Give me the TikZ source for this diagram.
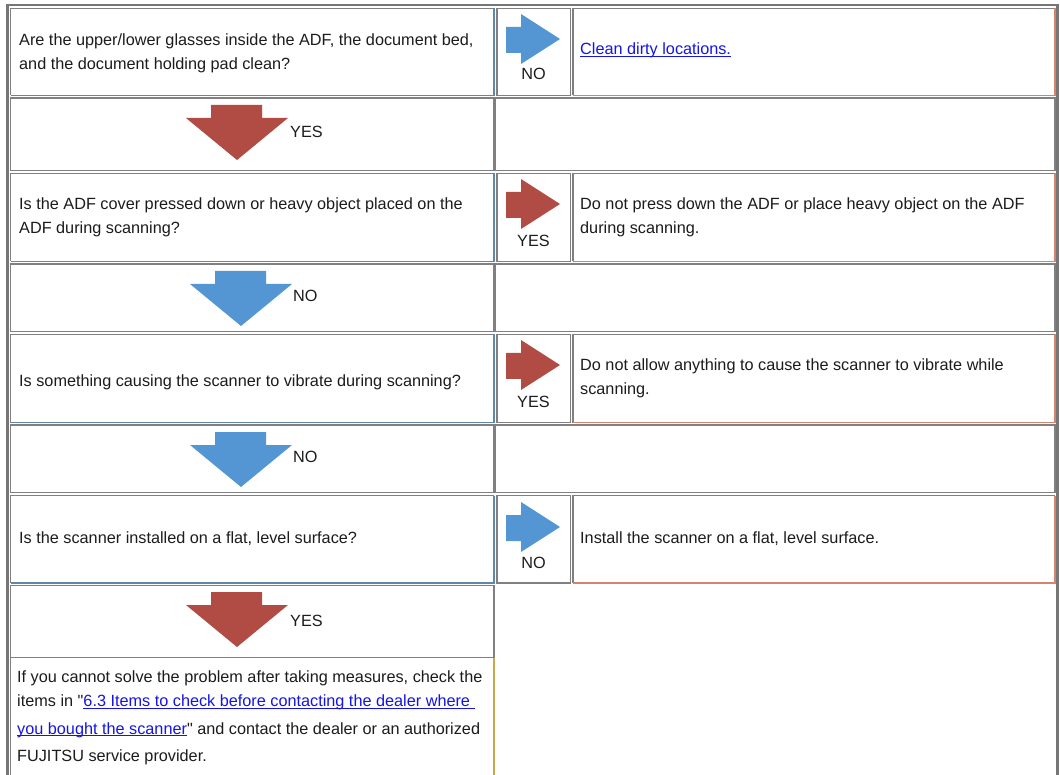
\documentclass[tikz,border=0pt]{standalone}
\usepackage{fontspec}
\setmainfont{Liberation Sans}
\newfontfamily\rawq{Liberation Sans}[Ligatures=TeXOff]
\definecolor{cellgray}{RGB}{128,128,128}
\definecolor{outergray}{RGB}{118,118,118}
\definecolor{qblue}{RGB}{95,135,170}
\definecolor{asalmon}{RGB}{212,132,110}
\definecolor{fgold}{RGB}{200,168,72}
\definecolor{arrowblue}{RGB}{83,150,211}
\definecolor{arrowred}{RGB}{176,76,68}
\definecolor{linkblue}{RGB}{20,20,230}
\definecolor{txt}{RGB}{28,28,28}
\newcommand\linkul[1]{{\color{linkblue}\setbox0\hbox{#1}\rlap{\rule[-2.3pt]{\wd0}{1pt}}\box0}}
\newcommand\qcell[4]{\draw[gline] (#1,#4) |- (#3,#2); \draw[bline] (#3,#2) |- (#1,#4);}
\newcommand\acell[4]{\draw[gline] (#1,#4) |- (#3,#2); \draw[sline] (#3,#2) |- (#1,#4);}
\newcommand\gcell[4]{\draw[gline] (#1,#2) rectangle (#3,#4);}
\newcommand\rarrow[2]{\fill[#1] (506,{#2+19}) -- (521,{#2+19}) -- (521,{#2+6}) -- (560,{#2+31}) -- (521,{#2+56}) -- (521,{#2+45}) -- (506,{#2+45}) -- cycle;}
\newcommand\darrow[3]{\fill[#1] ({#2+25},{#3+7}) -- ({#2+76},{#3+7}) -- ({#2+76},{#3+20}) -- ({#2+102},{#3+20}) -- ({#2+51},{#3+62}) -- (#2,{#3+20}) -- ({#2+25},{#3+20}) -- cycle;}
\begin{document}
\begin{tikzpicture}[x=1pt,y=-1pt,
  every node/.style={inner sep=0pt, font=\fontsize{16.25}{24}\selectfont, text=txt},
  gline/.style={draw=cellgray, line width=1.3pt},
  bline/.style={draw=qblue, line width=1.3pt},
  sline/.style={draw=asalmon, line width=1.3pt},
  fline/.style={draw=fgold, line width=1.5pt},
  tl/.style={anchor=base west},
  lbl/.style={anchor=base},
  lblw/.style={anchor=base west}]
\useasboundingbox (0,0) rectangle (1060,775);
\clip (0,0) rectangle (1060,775);
\fill[white] (0,0) rectangle (1060,775);
% outer table border
\draw[draw=outergray, line width=2.4pt] (7.5,800) |- (1057.5,5) -- (1057.5,800);
% row 1
\qcell{10.5}{8.5}{494}{95.5}
\gcell{497}{8.5}{570.5}{95.5}
\acell{573}{8.5}{1055}{95.5}
% row 2
\gcell{10.5}{98}{494}{170.5}
\gcell{495.5}{98}{1055}{170.5}
% row 3
\qcell{10.5}{173.5}{494}{261.5}
\gcell{497}{173.5}{570.5}{261.5}
\acell{573}{173.5}{1055}{261.5}
% row 4
\gcell{10.5}{264}{494}{331.5}
\gcell{495.5}{264}{1055}{331.5}
% row 5
\qcell{10.5}{334.5}{494}{422.5}
\gcell{497}{334.5}{570.5}{422.5}
\acell{573}{334.5}{1055}{422.5}
% row 6
\gcell{10.5}{425}{494}{492.5}
\gcell{495.5}{425}{1055}{492.5}
% row 7
\qcell{10.5}{495.5}{494}{583}
\gcell{497}{495.5}{570.5}{583}
\acell{573}{495.5}{1055}{583}
% row 8
\gcell{10.5}{585.5}{494}{657.5}
% row 9
\draw[gline] (10.5,800) -- (10.5,657.5);
\draw[fline] (494,657.5) -- (494,800);

% arrows
\rarrow{arrowblue}{8}
\rarrow{arrowred}{173}
\rarrow{arrowred}{334}
\rarrow{arrowblue}{496}
\darrow{arrowred}{186}{98}
\darrow{arrowblue}{190}{264}
\darrow{arrowblue}{190}{425}
\darrow{arrowred}{186}{585}

% arrow labels
\node[lbl] (n1) at (533.5,80) {NO};
\node[lbl] (y3) at (533.5,246.5) {YES};
\node[lbl] (y5) at (533.5,407) {YES};
\node[lbl] (n7) at (533.5,568) {NO};
\node[lblw] (y2) at (290,137.5) {YES};
\node[lblw] (n4) at (293,301.5) {NO};
\node[lblw] (n6) at (293,462) {NO};
\node[lblw] (y8) at (290,626) {YES};

% row 1 text
\node[tl] (q1a) at (19,45.5) {Are the upper/lower glasses inside the ADF, the document bed,};
\node[tl] (q1b) at (19,69.5) {and the document holding pad clean?};
\node[tl] (a1) at (580,54.5) {\linkul{Clean dirty locations.}};
% row 3 text
\node[tl] (q3a) at (19,210) {Is the ADF cover pressed down or heavy object placed on the};
\node[tl] (q3b) at (19,234) {ADF during scanning?};
\node[tl] (a3a) at (580,210) {Do not press down the ADF or place heavy object on the ADF};
\node[tl] (a3b) at (580,234) {during scanning.};
% row 5 text
\node[tl] (q5) at (19,387) {Is something causing the scanner to vibrate during scanning?};
\node[tl] (a5a) at (580,370.5) {Do not allow anything to cause the scanner to vibrate while};
\node[tl] (a5b) at (580,394.5) {scanning.};
% row 7 text
\node[tl] (q7) at (19,543.5) {Is the scanner installed on a flat, level surface?};
\node[tl] (a7) at (580,543.5) {Install the scanner on a flat, level surface.};
% row 9 text
\node[tl] (f1) at (17,682.3) {If you cannot solve the problem after taking measures, check the};
\node[tl] (f2) at (17,706.7) {items in {\rawq"}\linkul{6.3 Items to check before contacting the dealer where\ }};
\node[tl] (f3) at (17,734) {\linkul{you bought the scanner}{\rawq"} and contact the dealer or an authorized};
\node[tl] (f4) at (17,761.7) {FUJITSU service provider.};
\end{tikzpicture}
\end{document}
